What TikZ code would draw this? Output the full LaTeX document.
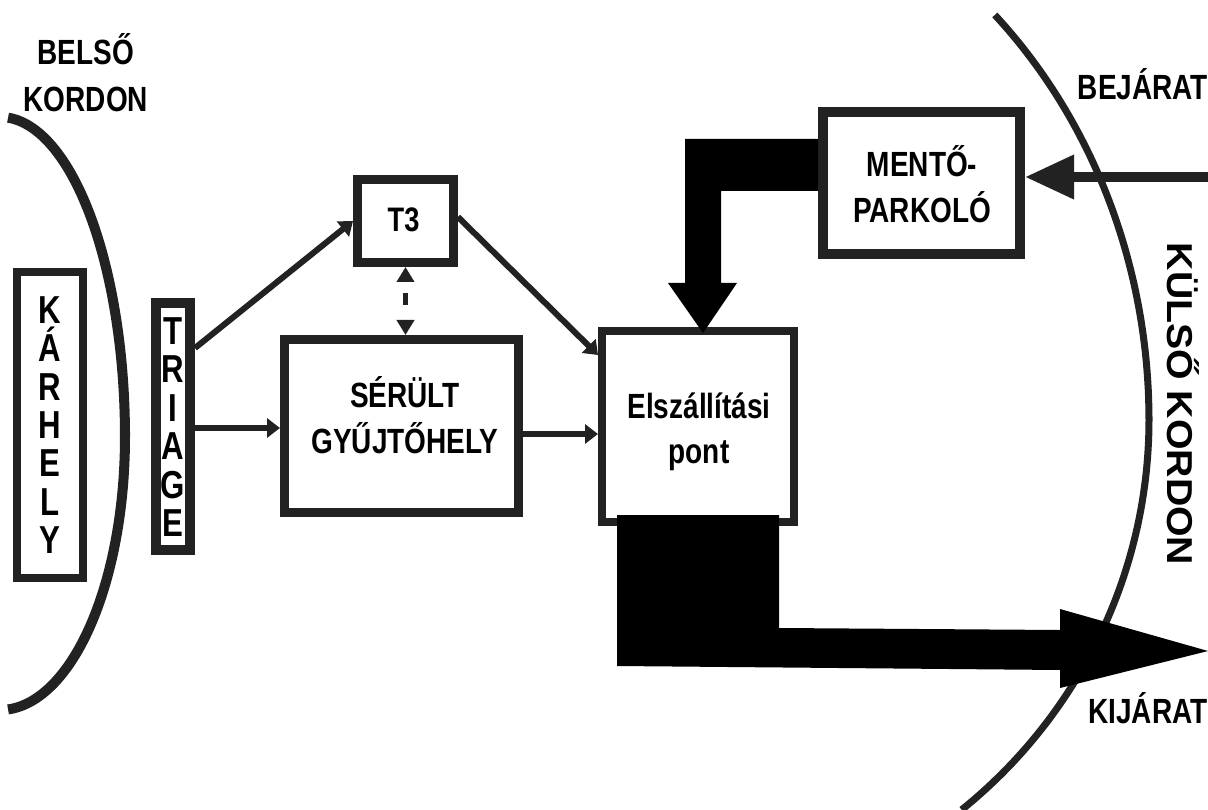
\documentclass[tikz,border=0pt]{standalone}
\usepackage{fontspec}
\setmainfont{Liberation Sans}
\newfontfamily\cond{Liberation Sans}[FakeStretch=0.8]
\usetikzlibrary{arrows.meta,calc}
\definecolor{ink}{RGB}{34,34,34}
\begin{document}
\begin{tikzpicture}[x=1pt,y=-1pt,
  box/.style={draw=ink,fill=white,inner sep=0pt},
  lbl/.style={inner sep=0pt,anchor=base,text=black,font=\cond\bfseries\fontsize{35}{42}\selectfont},
  vlbl/.style={inner sep=0pt,align=center,text=black,font=\cond\bfseries\fontsize{39}{38.4}\selectfont},
  cordon/.style={draw=ink,line cap=butt},
  arr/.style={draw=ink,line width=6pt,-{Triangle[length=13pt,width=19pt]}},
  dasharr/.style={draw=ink,line width=5pt,{Triangle[length=15pt,width=17pt]}-{Triangle[length=15pt,width=17pt]},dash pattern=on 0pt off 12pt on 12pt off 40pt},
  bigarr/.style={draw=ink,line width=10pt,-{Triangle[length=49pt,width=42pt]}}
]
\useasboundingbox (0,0) rectangle (1208,810);
\fill[white] (0,0) rectangle (1208,810);

% cordons
\draw[cordon,line width=10pt] plot[domain=-86.3:0,samples=60] ({125*cos(\x)},{437+320*sin(\x)}) -- plot[domain=0:86.3,samples=60] ({125*cos(\x)},{437+273*sin(\x)});
\draw[cordon,line width=7pt] plot[domain=-45.8:0,samples=60] ({640+509*cos(\x)},{420+565*sin(\x)}) -- plot[domain=0:50.8,samples=60] ({640+509*cos(\x)},{420+503*sin(\x)});

% boxes
\node[box,line width=8pt,minimum width=66pt,minimum height=306pt] (kar) at (50,425) {};
\node[box,line width=10pt,minimum width=34pt,minimum height=247pt] (tri) at (173,426.5) {};
\node[box,line width=9pt,minimum width=96pt,minimum height=83pt] (t3) at (405.5,221) {};
\node[box,line width=9pt,minimum width=234pt,minimum height=173pt] (ser) at (401.5,426) {};
\node[box,line width=8pt,minimum width=192pt,minimum height=191pt] (ela) at (698,426.5) {};
\node[box,line width=10pt,minimum width=197pt,minimum height=142pt] (ment) at (921.5,183) {};

% box texts
\node[vlbl] (kartext) at (50,425) {K\\Á\\R\\H\\E\\L\\Y};
\node[vlbl] (tritext) at (173,427) {T\\R\\I\\A\\G\\E};
\node[lbl,font=\cond\bfseries\fontsize{34}{40}\selectfont] (t3text) at (403.5,232) {T3};
\node[lbl] (sert1) at (405,407) {SÉRÜLT};
\node[lbl] (sert2) at (405,453) {GYŰJTŐHELY};
\node[lbl] (elat1) at (699,418) {Elszállítási};
\node[lbl] (elat2) at (699,463) {pont};
\node[lbl] (mentt1) at (922,177) {MENTŐ-};
\node[lbl] (mentt2) at (922,223) {PARKOLÓ};

% free labels
\node[lbl] (bel1) at (86,65) {BELSŐ};
\node[lbl] (bel2) at (86,112) {KORDON};
\node[lbl] (bej) at (1143,100) {BEJÁRAT};
\node[lbl] (kij) at (1148,723) {KIJÁRAT};
\node[inner sep=0pt,anchor=base,rotate=-90,text=black,font=\bfseries\fontsize{36}{42}\selectfont] (kul) at (1167,404) {\scalebox{1.09}[1]{KÜLSŐ KORDON}};

% helper coordinates
\coordinate (y348) at (0,348);
\coordinate (y428) at (0,428);
\coordinate (y217) at (0,217);
\coordinate (y355) at (0,355);
\coordinate (y434) at (0,434);
\coordinate (y177) at (0,177);
\coordinate (y139) at (0,139);
\coordinate (y191) at (0,191);
\coordinate (entry) at (1208,177);

% thin connectors
\draw[arr] (tri.east |- y348) -- (t3.west);
\draw[arr] (tri.east |- y428) -- (ser.west |- y428);
\draw[arr] (t3.east |- y217) -- (ela.west |- y355);
\draw[arr] (ser.east |- y434) -- (ela.west |- y434);
\draw[dasharr] (t3.south) -- (t3.south |- ser.north);

% entry arrow
\draw[bigarr] (entry) -- (ment.east |- y177);

% thick L arrow MENTŐ -> Elszállítási
\fill[black] (ment.west |- y139) -- (685,139) -- (685,283) -- (668,283) -- (703,333) -- (737,283) -- (721,283) -- (721,191) -- (ment.west |- y191) -- cycle;

% exit arrow
\fill[black] (617,515) -- (779,515) -- (779,628) -- (1060,630) -- (1060,609) -- (1208,651) -- (1060,688) -- (1060,670) -- (617,666) -- cycle;
\end{tikzpicture}
\end{document}
